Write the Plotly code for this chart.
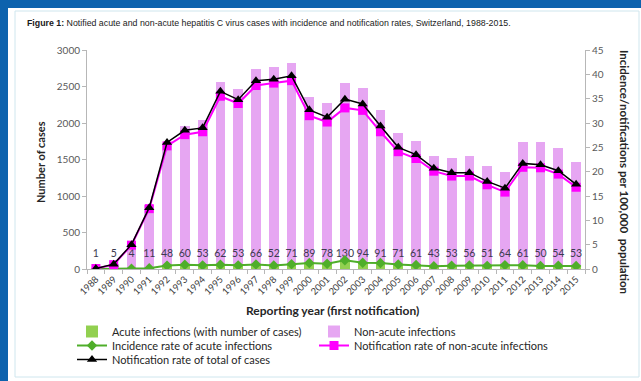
import plotly.graph_objects as go

# ---------------- data ----------------
years = ["1988", "1989", "1990", "1991", "1992", "1993", "1994", "1995", "1996", "1997",
         "1998", "1999", "2000", "2001", "2002", "2003", "2004", "2005", "2006", "2007",
         "2008", "2009", "2010", "2011", "2012", "2013", "2014", "2015"]

acute_cases = [1, 5, 4, 11, 48, 60, 53, 62, 53, 66, 52, 71, 89, 78, 130, 94, 91, 71, 61, 43,
               53, 56, 51, 64, 61, 50, 54, 53]

nonacute_cases = [9, 65, 346, 869, 1682, 1895, 1987, 2493, 2417, 2669, 2720, 2755, 2266, 2192,
                  2414, 2390, 2089, 1797, 1692, 1502, 1467, 1489, 1362, 1261, 1676, 1683, 1610, 1406]

acute_rate = [0.02, 0.08, 0.06, 0.16, 0.70, 0.86, 0.75, 0.88, 0.75, 0.93, 0.73, 0.99, 1.24, 1.08,
              1.79, 1.28, 1.23, 0.95, 0.81, 0.57, 0.69, 0.72, 0.65, 0.80, 0.76, 0.61, 0.66, 0.64]

nonacute_rate = [0.1, 0.9, 4.9, 12.4, 25.3, 27.6, 28.2, 35.5, 34.0, 37.7, 38.2, 38.7, 31.5, 30.2,
                 33.1, 32.6, 28.2, 24.1, 22.7, 20.1, 19.1, 19.1, 17.3, 15.8, 20.9, 20.8, 19.5, 16.8]

total_rate = [0.1, 1.0, 5.0, 12.6, 26.0, 28.5, 29.0, 36.5, 34.8, 38.7, 39.0, 39.7, 32.7, 31.2,
              34.9, 33.9, 29.4, 25.0, 23.5, 20.7, 19.8, 19.8, 18.0, 16.6, 21.7, 21.4, 20.2, 17.4]

# ---------------- layout constants ----------------
W, H = 641, 381
L, R, T, B = 87, 56, 50, 112
PW, PH = W - L - R, H - T - B
LABEL_LEVEL = 205  # height (in cases) at which the acute case counts are written


def px_x(px):
    return (px - L) / PW


def px_y(py):
    return (H - B - py) / PH


BLUE = "#0d62ad"
PINK = "#e6a6f2"
GREEN_BAR = "#92d050"
GREEN_LINE = "#4fae2a"
MAGENTA = "#ff00ff"
AXIS = "#b7b7b7"
TXT = "#404040"
FONT = "Lato"

fig = go.Figure()

fig.add_trace(go.Bar(x=years, y=acute_cases, name="Acute infections (with number of cases)",
                     marker=dict(color=GREEN_BAR, line_width=0), yaxis="y", legend="legend"))
fig.add_trace(go.Bar(x=years, y=nonacute_cases, name="Non-acute infections",
                     marker=dict(color=PINK, line_width=0), yaxis="y", legend="legend"))
fig.add_trace(go.Scatter(x=years, y=acute_rate, name="Incidence rate of acute infections",
                         mode="lines+markers", yaxis="y2", legend="legend2",
                         line=dict(color=GREEN_LINE, width=2),
                         marker=dict(symbol="diamond", size=8, color=GREEN_LINE)))
fig.add_trace(go.Scatter(x=years, y=nonacute_rate, name="Notification rate of non-acute infections",
                         mode="lines+markers", yaxis="y2", legend="legend2",
                         line=dict(color=MAGENTA, width=2),
                         marker=dict(symbol="square", size=9, color=MAGENTA)))
fig.add_trace(go.Scatter(x=years, y=total_rate, name="Notification rate of total of cases",
                         mode="lines+markers", yaxis="y2", legend="legend3",
                         line=dict(color="black", width=1.5),
                         marker=dict(symbol="triangle-up", size=9, color="black")))
fig.add_trace(go.Scatter(x=years, y=[LABEL_LEVEL] * len(years), text=[str(v) for v in acute_cases],
                         mode="text", textposition="middle center", yaxis="y",
                         textfont=dict(family=FONT, size=10.5, color="#3b3b4f"),
                         showlegend=False, hoverinfo="skip"))

shapes = [
    dict(type="rect", xref="paper", yref="paper", x0=px_x(8), x1=px_x(645), y0=px_y(8), y1=px_y(385),
         fillcolor="white", line_width=0, layer="below"),
    dict(type="rect", xref="paper", yref="paper", x0=px_x(15), x1=px_x(639), y0=px_y(11), y1=px_y(377),
         fillcolor="rgba(0,0,0,0)", line=dict(color="#cfe6ee", width=1), layer="below"),
]

annotations = [
    dict(text="<b>Figure 1:</b> Notified acute and non-acute hepatitis C virus cases with incidence and notification rates, Switzerland, 1988-2015.",
         x=px_x(25), y=px_y(23), xref="paper", yref="paper", xanchor="left", yanchor="middle",
         showarrow=False, font=dict(family="Liberation Sans", size=8.8, color="#1a1a1a")),
    dict(text="<b>Number of cases</b>", textangle=-90, x=px_x(40), y=px_y(162), xref="paper", yref="paper",
         xanchor="center", yanchor="middle", showarrow=False,
         font=dict(family=FONT, size=11, color="#262626")),
    dict(text="<b>Incidence/notifications per 100,000  population</b>", textangle=90, x=px_x(625), y=px_y(172),
         xref="paper", yref="paper", xanchor="center", yanchor="middle", showarrow=False,
         font=dict(family=FONT, size=11.5, color="#262626")),
    dict(text="<b>Reporting year (first notification)</b>", x=px_x(332), y=px_y(310), xref="paper", yref="paper",
         xanchor="center", yanchor="middle", showarrow=False,
         font=dict(family=FONT, size=12, color="#262626")),
]

axis_common = dict(showline=True, linecolor=AXIS, linewidth=1, ticks="outside", ticklen=4,
                   tickcolor=AXIS, showgrid=False, zeroline=False, automargin=False)


def legend_row(top_px):
    return dict(orientation="h", xref="container", yref="container",
                x=72 / W, y=1 - top_px / H, xanchor="left", yanchor="top",
                entrywidth=197, bgcolor="rgba(0,0,0,0)", traceorder="normal",
                font=dict(family=FONT, size=11, color="#262626"), itemwidth=30)


fig.update_layout(
    width=W, height=H,
    margin=dict(l=L, r=R, t=T, b=B, pad=0, autoexpand=False),
    paper_bgcolor=BLUE, plot_bgcolor="white",
    barmode="stack", bargap=0.45,
    font=dict(family=FONT, color=TXT),
    xaxis=dict(type="category", range=[-0.5, len(years) - 0.5], tickson="boundaries", tickangle=-45,
               tickfont=dict(family=FONT, size=9.5, color="#404040"), **axis_common),
    yaxis=dict(range=[0, 3000], dtick=500, tickfont=dict(family=FONT, size=10, color="#595959"),
               **axis_common),
    yaxis2=dict(range=[0, 45], dtick=5, overlaying="y", side="right",
                tickfont=dict(family=FONT, size=10, color="#595959"), **axis_common),
    legend=legend_row(317),
    legend2=legend_row(331),
    legend3=legend_row(345),
    shapes=shapes, annotations=annotations,
    showlegend=True,
)

fig.write_html("out.html")
